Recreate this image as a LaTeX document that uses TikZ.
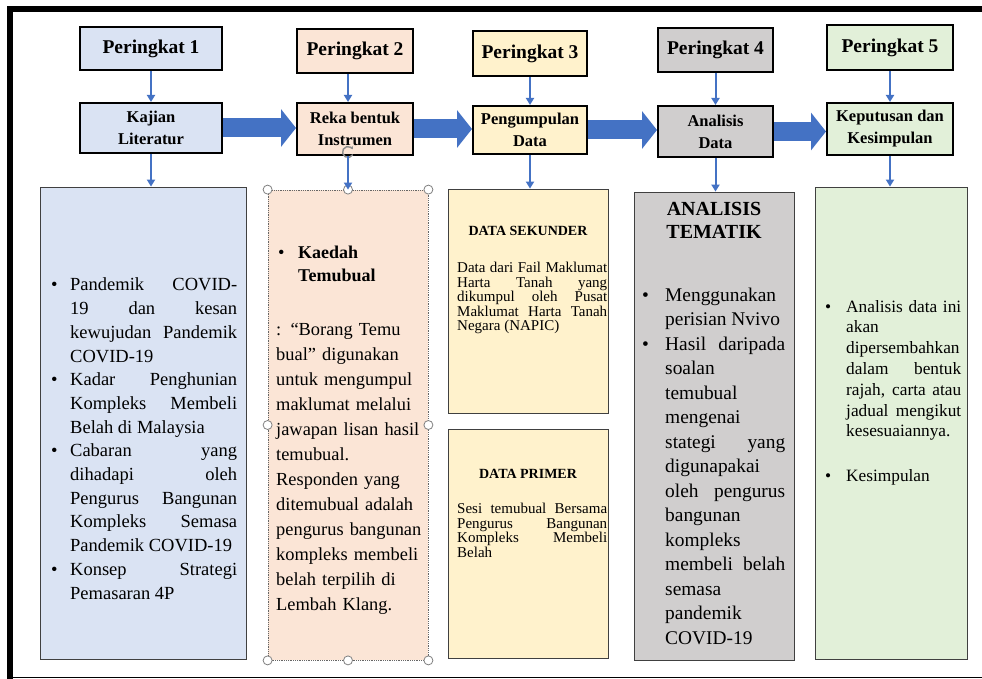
\documentclass[tikz,border=0pt]{standalone}
\usepackage{fontspec}
\setmainfont{Liberation Serif}
\usetikzlibrary{arrows.meta}

\definecolor{isibiru}{HTML}{DAE3F3}
\definecolor{isipic}{HTML}{FBE5D6}
\definecolor{isikuning}{HTML}{FFF2CC}
\definecolor{isikelabu}{HTML}{D0CECE}
\definecolor{isihijau}{HTML}{E2F0D9}
\definecolor{panahbiru}{HTML}{4472C4}

\newcommand{\hurufkotak}[2]{\fontsize{#1}{#2}\selectfont\parskip=0pt\tolerance=9999\hyphenpenalty=10000\exhyphenpenalty=10000}
\newcommand{\butir}[2]{\par\noindent\hangindent=#1\hangafter=1\hbox to #1{\textbullet\hfil}#2\par}

\tikzset{
	peringkat/.style={draw, line width=2.5pt, inner sep=0pt, font=\bfseries\fontsize{19.5}{22}\selectfont},
	langkah/.style={draw, line width=2pt, inner sep=0pt, align=center, font=\bfseries\fontsize{16.5}{22}\selectfont},
	kotak/.style={draw=black!75, line width=0.8pt, inner sep=0pt},
	teks/.style={anchor=north west, inner sep=0pt, align=justify},
	tajuk/.style={anchor=base, inner sep=0pt, font=\bfseries\fontsize{14}{16}\selectfont},
	panah/.style={draw=panahbiru, line width=2pt, -{Triangle[length=7pt,width=8pt]}},
	panahbesar/.style={draw=panahbiru, line width=19pt, -{Triangle[length=15pt,width=37pt]}}
}

\begin{document}
\begin{tikzpicture}[x=1pt,y=-1pt]
	\useasboundingbox (0,0) rectangle (982,679);
		%Frame
			\fill (7,6) rectangle (982,12);
			\fill (7,6) rectangle (13,679);
			\draw[line width=1.5pt] (13,677.5) -- (982,677.5);
		%Peringkat
			\node[peringkat, fill=isibiru, minimum width=142pt, minimum height=43pt] (p1) at (151,48.5) {Peringkat 1};
			\node[peringkat, fill=isipic, minimum width=116pt, minimum height=44pt] (p2) at (355,51) {Peringkat 2};
			\node[peringkat, fill=isikuning, minimum width=114pt, minimum height=45pt] (p3) at (530,53.5) {Peringkat 3};
			\node[peringkat, fill=isikelabu, minimum width=115pt, minimum height=44pt] (p4) at (715.5,50) {Peringkat 4};
			\node[peringkat, fill=isihijau, minimum width=126pt, minimum height=45pt] (p5) at (890,47.5) {Peringkat 5};
		%Langkah
			\node[langkah, fill=isibiru, minimum width=142pt, minimum height=50pt] (k1) at (151,128) {Kajian\\Literatur};
			\node[langkah, fill=isipic, minimum width=116pt, minimum height=52pt] (k2) at (355,129) {Reka bentuk\\Instrumen};
			\node[langkah, fill=isikuning, minimum width=114pt, minimum height=48pt] (k3) at (530,130) {Pengumpulan\\Data};
			\node[langkah, fill=isikelabu, minimum width=115pt, minimum height=51pt] (k4) at (715.5,131.5) {Analisis\\Data};
			\node[langkah, fill=isihijau, minimum width=126pt, minimum height=52pt] (k5) at (890,129) {Keputusan dan\\Kesimpulan};
		%Kotak bawah
			\node[kotak, fill=isibiru, minimum width=206pt, minimum height=472pt] (b1) at (143,423) {};
			\node[kotak, fill=isipic, draw=black!60, densely dotted, minimum width=160pt, minimum height=470pt] (b2) at (348,425) {};
			\node[kotak, fill=isikuning, minimum width=160pt, minimum height=224pt] (b3) at (528,301) {};
			\node[kotak, fill=isikuning, minimum width=160pt, minimum height=229pt] (b3b) at (528,543.5) {};
			\node[kotak, fill=isikelabu, minimum width=160pt, minimum height=468pt] (b4) at (714,426) {};
			\node[kotak, fill=isihijau, minimum width=152pt, minimum height=472pt] (b5) at (891,423) {};
		%Teks kotak 1
			\node[teks, text width=186pt, font=\hurufkotak{18.5}{23.7}] (t1) at (51,267) {%
				\butir{19pt}{Pandemik COVID-\linebreak 19 dan kesan\linebreak kewujudan Pandemik\linebreak COVID-19}%
				\butir{19pt}{Kadar Penghunian\linebreak Kompleks Membeli\linebreak Belah di Malaysia}%
				\butir{19pt}{Cabaran yang\linebreak dihadapi oleh\linebreak Pengurus Bangunan\linebreak Kompleks Semasa\linebreak Pandemik COVID-19}%
				\butir{19pt}{Konsep Strategi\linebreak Pemasaran 4P}};
		%Teks kotak 2
			\node[teks, align=left, text width=150pt, font=\hurufkotak{18.4}{25}] (t2) at (276,246) {%
				\makebox[22pt][l]{\hspace{2pt}\textbullet}{\bfseries\fontsize{18}{23}\selectfont Kaedah}\\[-2pt]
				\hspace*{22pt}{\bfseries\fontsize{18}{23}\selectfont Temubual}\\[29pt]
				: “Borang Temu\\ bual” digunakan\\ untuk mengumpul\\ maklumat melalui\\ jawapan lisan hasil\\ temubual.\\
				Responden yang\\ ditemubual adalah\\ pengurus bangunan\\ kompleks membeli\\ belah terpilih di\\ Lembah Klang.};
		%Teks kotak 3
			\node[tajuk] (h3) at (528,235) {DATA SEKUNDER};
			\node[teks, text width=150pt, font=\hurufkotak{15}{14.5}] (t3) at (457,262) {\noindent
				Data dari Fail Maklumat\linebreak Harta Tanah yang\linebreak dikumpul oleh Pusat\linebreak Maklumat Harta Tanah\linebreak Negara (NAPIC)};
			\node[tajuk] (h3b) at (528,478) {DATA PRIMER};
			\node[teks, text width=150pt, font=\hurufkotak{15}{14.5}] (t3b) at (457,503) {\noindent
				Sesi temubual Bersama\linebreak Pengurus Bangunan\linebreak Kompleks Membeli\linebreak Belah};
		%Teks kotak 4
			\node[anchor=north, inner sep=0pt, align=center, font=\bfseries\fontsize{20}{23}\selectfont] (h4) at (714,202) {ANALISIS\\TEMATIK};
			\node[teks, text width=143pt, font=\hurufkotak{19.4}{24.5}] (t4) at (642,276.5) {%
				\butir{23pt}{Menggunakan\linebreak perisian Nvivo}%
				\butir{23pt}{Hasil daripada\linebreak soalan\linebreak temubual\linebreak mengenai\linebreak stategi yang\linebreak digunapakai\linebreak oleh pengurus\linebreak bangunan\linebreak kompleks\linebreak membeli belah\linebreak semasa\linebreak pandemik\linebreak COVID-19}};
		%Teks kotak 5
			\node[teks, text width=136pt, font=\hurufkotak{17.3}{20.8}] (t5) at (825,291) {%
				\butir{21pt}{Analisis data ini\linebreak akan\linebreak dipersembahkan\linebreak dalam bentuk\linebreak rajah, carta atau\linebreak jadual mengikut\linebreak kesesuaiannya.}%
				\vspace{24pt}%
				\butir{21pt}{Kesimpulan}};
		%Pemegang kotak 2
			\foreach \a in {north west,north,north east,west,east,south west,south,south east}
			{
				\filldraw[fill=white, draw=black!50, line width=0.8pt] (b2.\a) circle (4.5);
			}
			\draw[black!45, line width=1.4pt, -{Stealth[length=3pt,width=4pt]}] (348,152) ++(30:5.5) arc (30:330:5.5);
		%Panah
			\foreach \i in {1,3,4,5}
			{
				\draw[panah] (p\i.south) -- (k\i.north);
				\draw[panah] (k\i.south) -- (k\i.south |- b\i.north);
			}
			\draw[panah] (p2.south -| b2.north) -- (k2.north -| b2.north);
			\draw[panah] (k2.south -| b2.north) -- (b2.north);
		%Panah besar
			\draw[panahbesar] (k1.east) -- (k1.east -| k2.west);
			\draw[panahbesar] (k2.east) -- (k2.east -| k3.west);
			\draw[panahbesar] (k3.east) -- (k3.east -| k4.west);
			\draw[panahbesar] (k4.east) -- (k4.east -| k5.west);
\end{tikzpicture}
\end{document}
